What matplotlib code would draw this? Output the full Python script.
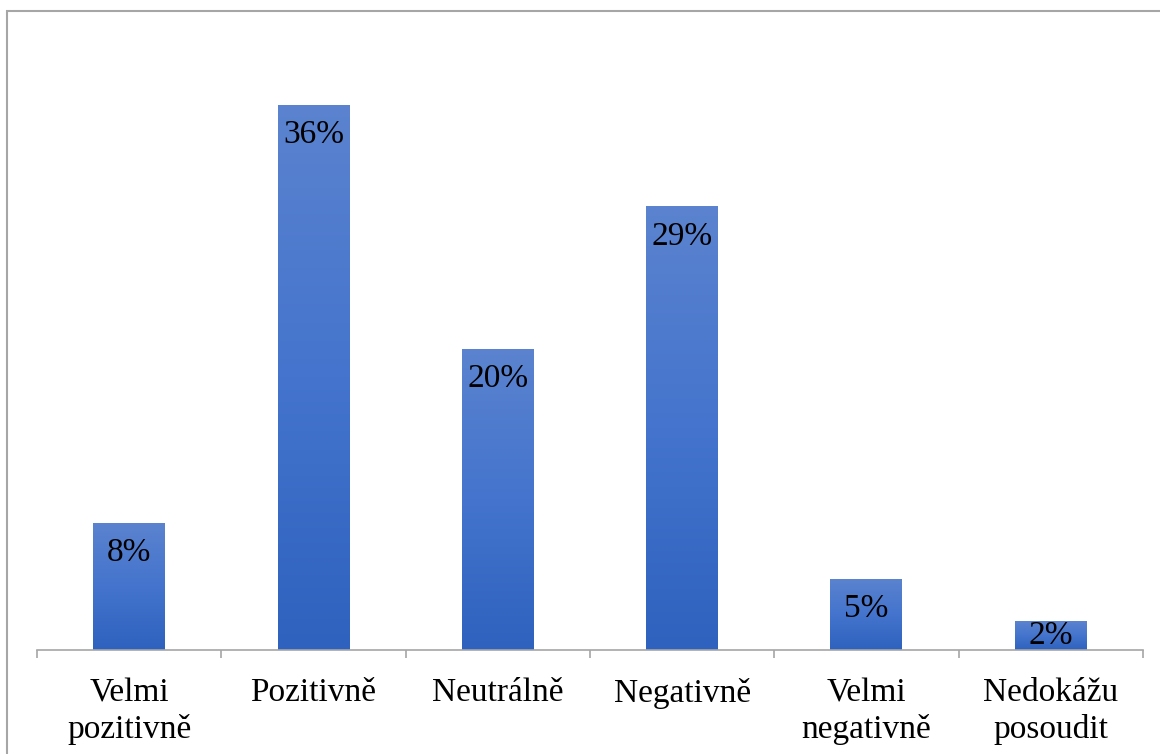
import numpy as np
import matplotlib.pyplot as plt
from matplotlib.patches import Rectangle
from matplotlib.colors import LinearSegmentedColormap

# data
categories = ["Velmi\npozitivně", "Pozitivně", "Neutrálně", "Negativně",
              "Velmi\nnegativně", "Nedokážu\nposoudit"]
values = [8.4, 36.0, 19.9, 29.3, 4.7, 1.9]
value_labels = ["8%", "36%", "20%", "29%", "5%", "2%"]

plt.rcParams['font.family'] = ['Liberation Serif', 'DejaVu Serif']

W, H = 1160, 754
fig = plt.figure(figsize=(W / 100, H / 100), dpi=100)

# outer chart frame (right/bottom edges fall outside the picture)
fig.patches.append(Rectangle((7 / W, -0.1), 1.2, (H - 11) / H + 0.1,
                             transform=fig.transFigure, fill=False,
                             edgecolor="#a6a6a6", linewidth=1.5))

ax_left, ax_right = 37, 1143
ax_bottom = H - 650
ymax = 40
px_per_unit = 15.14
ax = fig.add_axes([ax_left / W, ax_bottom / H, (ax_right - ax_left) / W,
                   ymax * px_per_unit / H])

x = np.arange(len(categories))
bar_w = 72 / ((ax_right - ax_left) / len(categories))
bars = ax.bar(x, values, width=bar_w, color="none", edgecolor="none")

# vertical gradient: lighter top, darker bottom
cmap = LinearSegmentedColormap.from_list("grad", ["#2e62be", "#4474cd", "#5b83cf"])
grad = np.linspace(0, 1, 256).reshape(-1, 1)
for b in bars:
    x0, y0 = b.get_x(), b.get_y()
    w, h = b.get_width(), b.get_height()
    im = ax.imshow(grad, extent=[x0, x0 + w, y0, y0 + h], origin="lower",
                   cmap=cmap, aspect="auto", zorder=2)
    im.set_clip_path(b)
    b.set_zorder(3)

# labels sit ~30px under the bar top, or centred in short bars
for xi, v, lab in zip(x, values, value_labels):
    off = min(30 / px_per_unit, v / 2)
    ax.text(xi, v - off, lab, ha="center", va="center", fontsize=24,
            color="black", zorder=4)

ax.set_xlim(-0.5, len(categories) - 0.5)
ax.set_ylim(0, ymax)

for s in ["top", "right", "left"]:
    ax.spines[s].set_visible(False)
ax.spines["bottom"].set_color("#a6a6a6")
ax.spines["bottom"].set_linewidth(1.2)
ax.set_yticks([])

ax.set_xticks(x)
ax.set_xticklabels(categories, fontsize=24, linespacing=1.25)
ax.tick_params(axis="x", which="major", length=0, pad=20)
ax.set_xticks(np.arange(-0.5, len(categories)), minor=True)
ax.tick_params(axis="x", which="minor", length=6, color="#a6a6a6", width=1.2)

fig.savefig("out.png", dpi=100)
